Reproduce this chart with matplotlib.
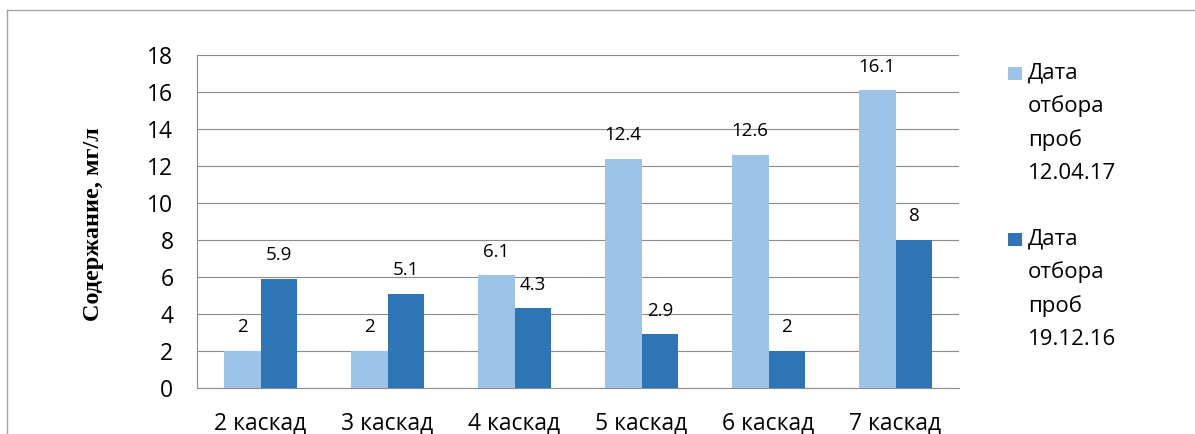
import matplotlib
matplotlib.use("Agg")
import matplotlib.pyplot as plt
import numpy as np
from matplotlib.patches import Rectangle
from matplotlib.lines import Line2D
from matplotlib.legend_handler import HandlerBase

categories = ["2 каскад", "3 каскад", "4 каскад", "5 каскад", "6 каскад", "7 каскад"]
series_2017 = [2, 2, 6.1, 12.4, 12.6, 16.1]
series_2016 = [5.9, 5.1, 4.3, 2.9, 2, 8]
label_2017 = "Дата\nотбора\nпроб\n12.04.17"
label_2016 = "Дата\nотбора\nпроб\n19.12.16"
ylabel = "Содержание, мг/л"
yticks = [0, 2, 4, 6, 8, 10, 12, 14, 16, 18]

c_light = "#9DC3E6"
c_dark = "#2E75B6"
grid_c = "#8C8C8C"

plt.rcParams['font.family'] = ['Open Sans', 'DejaVu Sans']

fig = plt.figure(figsize=(11.95, 4.34), dpi=100)
W, H = 1195, 434
ax = fig.add_axes([197 / W, 1 - 388 / H, (959 - 197) / W, (388 - 55) / H])

x = np.arange(len(categories))
bw = 0.29
b1 = ax.bar(x - bw / 2, series_2017, bw, color=c_light, label=label_2017, zorder=3)
b2 = ax.bar(x + bw / 2, series_2016, bw, color=c_dark, label=label_2016, zorder=3)

for bars, vals in ((b1, series_2017), (b2, series_2016)):
    for r, v in zip(bars, vals):
        ax.annotate(f"{v:g}", (r.get_x() + r.get_width() / 2, v), xytext=(0, 17),
                    textcoords="offset points", ha="center", va="center",
                    fontsize=13.5, color="black")

ax.set_xlim(-0.5, len(categories) - 0.5)
ax.set_ylim(0, 18)
ax.set_yticks(yticks)
ax.set_xticks(x)
ax.set_xticklabels(categories, fontsize=16.5)
ax.tick_params(axis="y", labelsize=16.5, length=0, pad=17)
ax.tick_params(axis="x", length=0, pad=17)
ax.yaxis.grid(True, color=grid_c, linewidth=0.8, zorder=0)
ax.set_axisbelow(True)
for s in ("top", "right"):
    ax.spines[s].set_visible(False)
for s in ("left", "bottom"):
    ax.spines[s].set_color(grid_c)
    ax.spines[s].set_linewidth(0.8)

fig.text(93 / W, 1 - 224 / H, ylabel, rotation=90, ha="center", va="center",
         fontsize=17.5, fontweight="bold", family=["Liberation Serif", "DejaVu Serif"])

LS = 1.72
FS = 16


class TopSquare(HandlerBase):
    def create_artists(self, legend, orig_handle, xdescent, ydescent, width, height, fontsize, trans):
        s = 10.0
        off = 1.5 * 23.8
        cy = height / 2 - ydescent + off
        r = Rectangle((-xdescent, cy - s / 2), s, s, facecolor=orig_handle.patches[0].get_facecolor(),
                      edgecolor="none", transform=trans)
        return [r]


leg = fig.legend(handles=[b1, b2], labels=[label_2017, label_2016], loc="upper left",
                 bbox_to_anchor=(997 / W, 1 - 51 / H), frameon=False, fontsize=FS,
                 borderpad=0, handlelength=0.63, handletextpad=0.27, labelspacing=2.0,
                 handler_map={type(b1): TopSquare()})
for t in leg.get_texts():
    t.set_linespacing(LS)

fig.add_artist(Line2D([7 / W, 7 / W], [0, 1 - 10 / H], color="#A6A6A6", linewidth=1.0))
fig.add_artist(Line2D([7 / W, 1], [1 - 10 / H, 1 - 10 / H], color="#A6A6A6", linewidth=1.0))

fig.savefig("out.png", dpi=100)
